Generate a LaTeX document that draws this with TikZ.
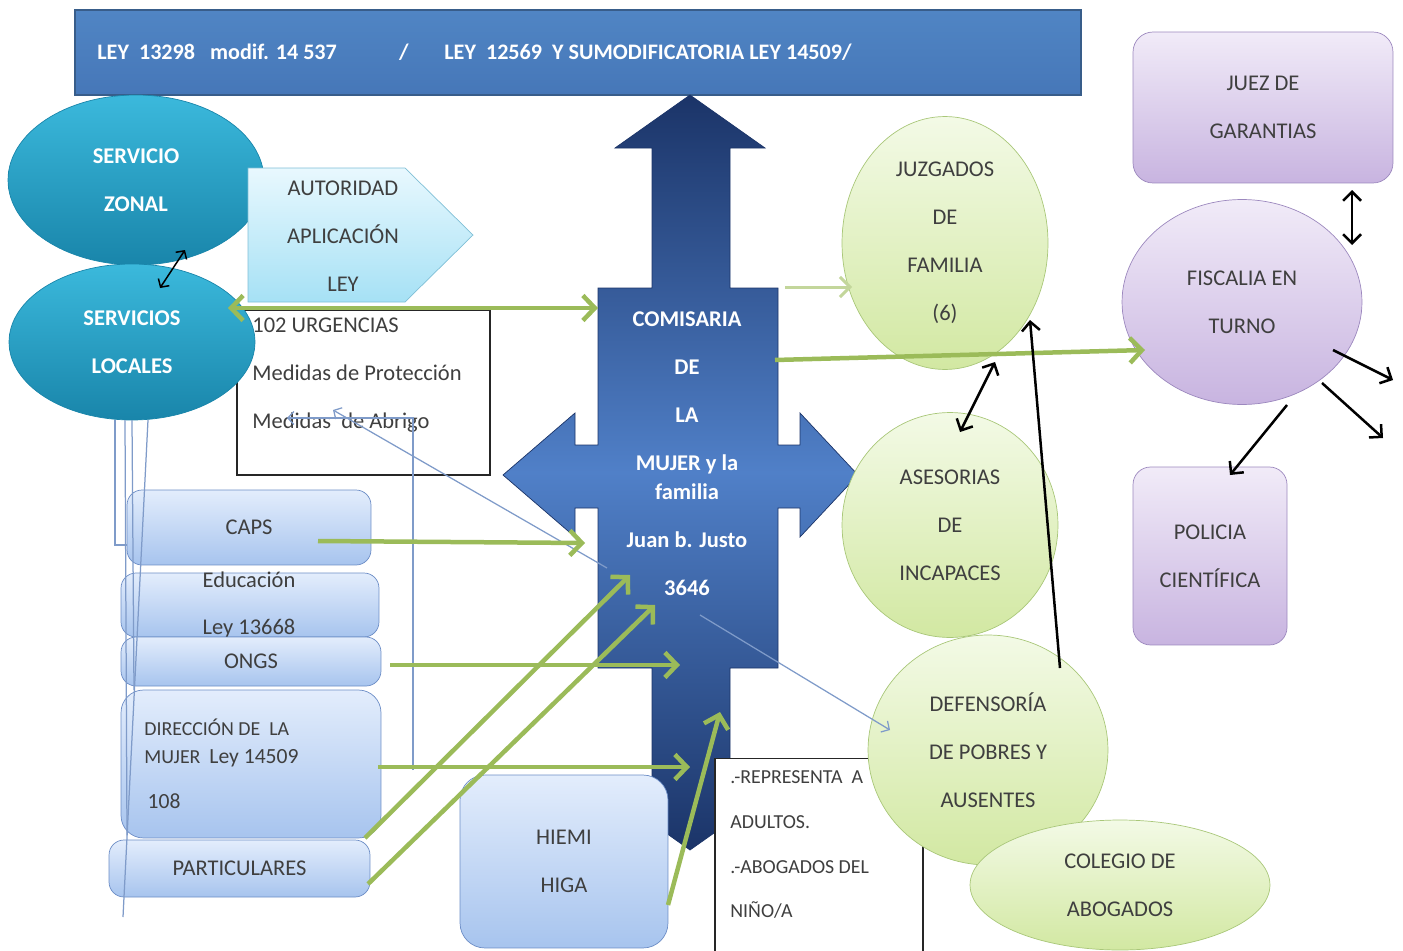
\documentclass[tikz,border=0pt]{standalone}
\usepackage{fontspec}
\setmainfont{Carlito}
\usetikzlibrary{shapes.geometric,arrows.meta}

\definecolor{txtgray}{HTML}{3F3F3F}
\definecolor{bannertop}{HTML}{5085C4}
\definecolor{bannerbot}{HTML}{4677B8}
\definecolor{bannerborder}{HTML}{385D8A}
\definecolor{navy}{HTML}{1B3468}
\definecolor{midblue}{HTML}{5080C8}
\definecolor{tealtop}{HTML}{3BB9DC}
\definecolor{tealbot}{HTML}{1985AA}
\definecolor{autotop}{HTML}{E8F8FE}
\definecolor{autobot}{HTML}{A6E1F5}
\definecolor{autoborder}{HTML}{7FBFD6}
\definecolor{boxtop}{HTML}{E3EDFC}
\definecolor{boxbot}{HTML}{A7C4EE}
\definecolor{boxborder}{HTML}{6C8DC6}
\definecolor{grntop}{HTML}{F3FAE6}
\definecolor{grnbot}{HTML}{D2E8A2}
\definecolor{grnborder}{HTML}{A9C779}
\definecolor{purptop}{HTML}{F1EBF8}
\definecolor{purpbot}{HTML}{C8B4E0}
\definecolor{purpborder}{HTML}{9C88BE}
\definecolor{arrgreen}{HTML}{9BBB59}
\definecolor{arrlight}{HTML}{C3D69B}
\definecolor{thinline}{HTML}{7F9BC9}

\tikzset{
  base/.style={font=\fontsize{12.8}{27.3}\selectfont, text=txtgray, align=center, inner sep=0pt},
  wtxt/.style={font=\fontsize{12.8}{27.3}\selectfont\bfseries, text=white, align=center, inner sep=0pt},
  btxt/.style={font=\fontsize{12.6}{14}\selectfont\bfseries, text=white, inner sep=0pt},
  small/.style={font=\fontsize{11.3}{25.6}\selectfont, text=txtgray, align=left, inner sep=0pt},
  banner/.style={rectangle, draw=bannerborder, line width=1.2pt, top color=bannertop, bottom color=bannerbot},
  crossblue/.style={top color=navy, bottom color=navy, middle color=midblue, draw=navy, line width=0.4pt},
  tealell/.style={ellipse, wtxt, draw=tealbot, top color=tealtop, bottom color=tealbot},
  autoshape/.style={draw=autoborder, top color=autotop, bottom color=autobot},
  bluebox/.style={rectangle, base, rounded corners=0.3cm, draw=boxborder, top color=boxtop, bottom color=boxbot},
  whitebox/.style={rectangle, draw=black!85, fill=white, line width=0.7pt},
  grnell/.style={ellipse, base, draw=grnborder, top color=grntop, bottom color=grnbot},
  purpbox/.style={rectangle, base, rounded corners=0.4cm, draw=purpborder, top color=purptop, bottom color=purpbot},
  purpell/.style={ellipse, base, draw=purpborder, top color=purptop, bottom color=purpbot},
  grnarrow/.style={draw=arrgreen, line width=0.9mm, >={Straight Barb[length=2.4mm,width=5mm]}},
  lightarrow/.style={draw=arrlight, line width=0.6mm, >={Straight Barb[length=2mm,width=4mm]}},
  blkarrow/.style={draw=black, line width=0.5mm, >={Straight Barb[length=1.8mm,width=3.6mm]}},
  thinblue/.style={draw=thinline, line width=0.25mm, >={Straight Barb[length=1.2mm,width=2.6mm]}}
}

\begin{document}
\begin{tikzpicture}[x=0.02cm,y=-0.02cm]
\useasboundingbox (0,0) rectangle (1403,950);

% title bar
\node[banner, minimum width=20.12cm, minimum height=1.7cm] (banner) at (578,52.5) {};
\node[btxt, anchor=west] (leyA) at (97,52) {LEY\ \ 13298\ \ \ modif. 14 537};
\node[btxt] (slash) at (404,52) {/};
\node[btxt, anchor=west] (leyB) at (444,52) {LEY\ \ 12569\ \ Y SUMODIFICATORIA LEY 14509/};

% central cross
\draw[crossblue] (690,95) -- (765,148) -- (730,148) -- (730,288) -- (778,288) -- (778,445)
  -- (800,445) -- (800,413) -- (858,475) -- (800,537) -- (800,508) -- (778,508) -- (778,668)
  -- (730,668) -- (730,797) -- (765,797) -- (690,850) -- (615,797) -- (652,797) -- (652,668)
  -- (598,668) -- (598,508) -- (575,508) -- (575,537) -- (503,475) -- (575,413) -- (575,445)
  -- (598,445) -- (598,288) -- (652,288) -- (652,148) -- (615,148) -- cycle;
\node[wtxt] (comisaria) at (687,454) {COMISARIA\\DE\\LA\\MUJER y la\\[-10.8pt]familia\\Juan b. Justo\\3646};

% left side
\node[whitebox, minimum width=5.06cm, minimum height=3.3cm] (urgbox) at (363.5,392.5) {};
\node[tealell, minimum width=5.12cm, minimum height=3.4cm] (servzonal) at (136,180) {SERVICIO\\ZONAL};
\node[tealell, minimum width=4.92cm, minimum height=3.12cm] (servloc) at (132,342) {SERVICIOS\\LOCALES};
\draw[autoshape] (248,168) -- (405,168) -- (473,235) -- (405,302) -- (248,302) -- cycle;
\node[base] (autoridad) at (343,236) {AUTORIDAD\\APLICACIÓN\\LEY};
\node[base, anchor=west, align=left] (urgtxt) at (252,375) {102 URGENCIAS\\Medidas de Protección\\Medidas\ \ de Abrigo};

\node[bluebox, minimum width=4.88cm, minimum height=1.5cm] (caps) at (249,527.5) {CAPS};
\node[bluebox, minimum width=5.16cm, minimum height=1.28cm] (educ) at (250,605) {};
\node[base] (eductxt) at (249,605) {Educación\\Ley 13668};
\node[bluebox, minimum width=5.2cm, minimum height=0.98cm] (ongs) at (251,661.5) {ONGS};
\node[bluebox, rounded corners=0.45cm, minimum width=5.2cm, minimum height=2.96cm] (dirmujer) at (251,764) {};
\node[small, anchor=west] (dirtxt) at (144,764) {DIRECCIÓN DE\ \ LA\\[-9.7pt]MUJER\ \ {\fontsize{12.3}{25.6}\selectfont Ley 14509}\\\,{\fontsize{12.3}{25.6}\selectfont 108}};
\node[bluebox, minimum width=5.22cm, minimum height=1.14cm] (particulares) at (239.5,868.5) {PARTICULARES};
\node[bluebox, rounded corners=0.5cm, minimum width=4.16cm, minimum height=3.46cm] (hiemi) at (564,861.5) {HIEMI\\HIGA};

\node[whitebox, minimum width=4.16cm, minimum height=3.9cm] (repbox) at (819,856) {};
\node[small, anchor=west] (reptxt) at (730,844.5) {.-REPRESENTA\ \ A\\ADULTOS.\\.-ABOGADOS DEL\\NIÑO/A};

% right side
\node[grnell, minimum width=4.12cm, minimum height=5.06cm] (juzgados) at (945,243) {JUZGADOS\\DE\\FAMILIA\\(6)};
\node[grnell, minimum width=4.32cm, minimum height=4.5cm] (asesorias) at (950,525) {ASESORIAS\\DE\\INCAPACES};
\node[grnell, minimum width=4.8cm, minimum height=4.6cm] (defensoria) at (988,750) {DEFENSORÍA\\DE POBRES Y\\AUSENTES};
\node[grnell, minimum width=6cm, minimum height=2.6cm] (colegio) at (1120,885) {COLEGIO DE\\ABOGADOS};
\node[purpbox, minimum width=5.2cm, minimum height=3.02cm] (juez) at (1263,107.5) {JUEZ DE\\GARANTIAS};
\node[purpell, minimum width=4.8cm, minimum height=4.1cm] (fiscalia) at (1242,302) {FISCALIA EN\\TURNO};
\node[purpbox, rounded corners=0.35cm, minimum width=3.08cm, minimum height=3.56cm] (policia) at (1210,556) {POLICIA\\CIENTÍFICA};

% connector ends
\coordinate (locE) at (228,308);
\coordinate (comW) at (598,308);
\coordinate (capsE) at (318,541);
\coordinate (comCaps) at (585,543);
\coordinate (ongsE) at (390,665);
\coordinate (comOngs) at (680,665);
\coordinate (dirE) at (378,767);
\coordinate (comDir) at (690,767);
\coordinate (dirSE) at (365,838);
\coordinate (comDir2) at (630,575);
\coordinate (partE) at (368,884);
\coordinate (comPart) at (655,605);
\coordinate (hiemiE) at (668,905);
\coordinate (comHiemi) at (720,712);
\coordinate (comNE) at (785,287);
\coordinate (juzW) at (852,287);
\coordinate (comE) at (775,360);
\coordinate (fisW) at (1145,350);
\coordinate (zonS) at (185,250);
\coordinate (locN) at (160,288);
\coordinate (juzS) at (995,362);
\coordinate (aseN) at (960,432);
\coordinate (defN) at (1060,668);
\coordinate (juzSE) at (1030,320);
\coordinate (juezS) at (1352,190);
\coordinate (fisNE) at (1352,245);
\coordinate (fisE) at (1333,350);
\coordinate (outA) at (1393,380);
\coordinate (fisSE) at (1322,383);
\coordinate (outB) at (1383,438);
\coordinate (fisS) at (1287,405);
\coordinate (polN) at (1230,475);
\coordinate (comC) at (700,615);
\coordinate (defW) at (890,730);
\coordinate (comL) at (607,568);
\coordinate (abrigoA) at (333,410);
\coordinate (abrigoB) at (287,418);
\coordinate (bend) at (413,418);
\coordinate (dirN) at (413,770);

% thin blue lines
\draw[thinblue] (115,420) -- (115,545) -- (127,545);
\draw[thinblue] (125,420) -- (127,835);
\draw[thinblue] (132,420) -- (134,690);
\draw[thinblue] (148,420) -- (123,917);
\draw[thinblue,->] (dirN) -- (bend) -- (abrigoB);
\draw[thinblue,->] (comL) -- (abrigoA);
\draw[thinblue,->] (comC) -- (defW);

% green arrows
\draw[grnarrow,<->] (locE) -- (comW);
\draw[grnarrow,->] (capsE) -- (comCaps);
\draw[grnarrow,->] (ongsE) -- (comOngs);
\draw[grnarrow,->] (dirE) -- (comDir);
\draw[grnarrow,->] (dirSE) -- (comDir2);
\draw[grnarrow,->] (partE) -- (comPart);
\draw[grnarrow,->] (hiemiE) -- (comHiemi);
\draw[lightarrow,->] (comNE) -- (juzW);
\draw[grnarrow,->] (comE) -- (fisW);

% black arrows
\draw[black, line width=0.3mm, >={Straight Barb[length=1.2mm,width=2.6mm]}, <->] (zonS) -- (locN);
\draw[blkarrow,<->] (juzS) -- (aseN);
\draw[blkarrow,->] (defN) -- (juzSE);
\draw[blkarrow,<->] (juezS) -- (fisNE);
\draw[blkarrow,->] (fisE) -- (outA);
\draw[blkarrow,->] (fisSE) -- (outB);
\draw[blkarrow,->] (fisS) -- (polN);
\end{tikzpicture}
\end{document}
